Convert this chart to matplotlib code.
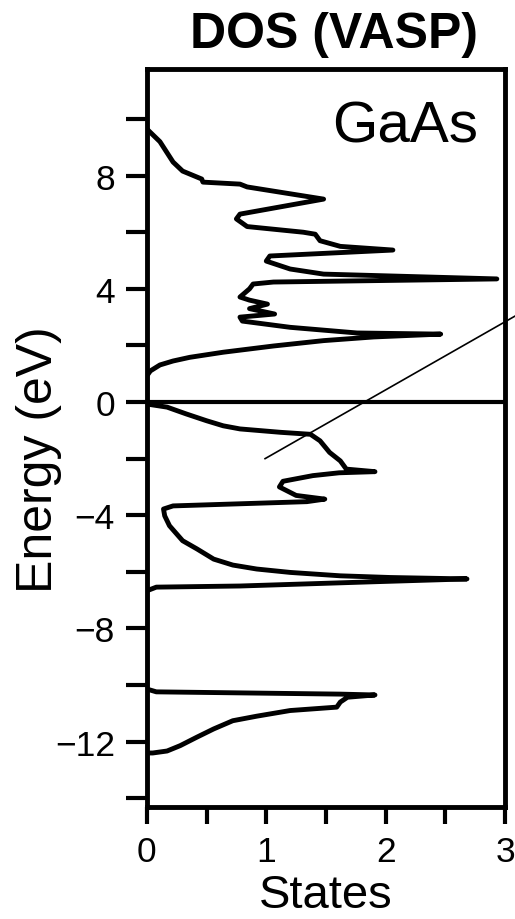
import matplotlib.pyplot as plt
import numpy as np

plt.rcParams['font.family'] = ['Liberation Sans', 'DejaVu Sans']

# conduction band (states, energy)
cb_dos = [0.0, 0.11, 0.22, 0.30, 0.46, 0.47, 0.78, 0.84, 1.48, 0.78, 0.75, 0.84,
          1.31, 1.41, 1.45, 1.62, 2.06, 1.03, 1.00, 1.20, 1.48, 2.93, 1.06, 0.89,
          0.86, 0.78, 0.86, 1.01, 0.86, 1.07, 0.78, 0.80, 1.20, 1.76, 2.46, 1.90,
          1.48, 1.06, 0.64, 0.36, 0.22, 0.11, 0.03, 0.0, 0.0]
cb_e = [9.65, 9.20, 8.48, 8.16, 7.88, 7.77, 7.70, 7.60, 7.17, 6.64, 6.47, 6.20,
        6.00, 5.93, 5.70, 5.50, 5.37, 5.16, 4.98, 4.70, 4.52, 4.35, 4.24, 4.17,
        4.00, 3.71, 3.60, 3.46, 3.30, 3.11, 3.00, 2.86, 2.64, 2.44, 2.40, 2.30,
        2.17, 1.98, 1.76, 1.58, 1.45, 1.31, 1.10, 0.92, 0.0]

# valence band
vb_dos = [0.0, 0.17, 0.33, 0.50, 0.64, 0.78, 1.12, 1.37, 1.45, 1.53, 1.62, 1.67,
          1.91, 1.61, 1.39, 1.14, 1.11, 1.25, 1.49, 1.34, 0.22, 0.14, 0.15, 0.19,
          0.25, 0.30, 0.42, 0.56, 0.72, 0.92, 1.20, 1.62, 2.04, 2.68, 1.90, 0.78,
          0.08, 0.0, 0.0]
vb_e = [-0.07, -0.18, -0.42, -0.66, -0.84, -0.95, -1.07, -1.14, -1.37, -1.78,
        -2.08, -2.37, -2.46, -2.50, -2.60, -2.80, -3.00, -3.30, -3.43, -3.52,
        -3.67, -3.78, -4.02, -4.37, -4.66, -4.90, -5.19, -5.55, -5.76, -5.90,
        -6.02, -6.14, -6.20, -6.25, -6.35, -6.50, -6.54, -6.67, -10.14]

# semicore band
sc_dos = [0.0, 0.08, 1.62, 1.91, 1.68, 1.62, 1.59, 1.20, 0.92, 0.72, 0.56, 0.42,
          0.28, 0.17, 0.05, 0.0]
sc_e = [-10.14, -10.24, -10.32, -10.35, -10.43, -10.60, -10.78, -10.90, -11.10,
        -11.26, -11.55, -11.84, -12.14, -12.33, -12.40, -12.40]

# guide line end points
guide_x = [0.99, 3.10]
guide_e = [-2.0, 3.08]

fig = plt.figure(figsize=(5.15, 9.2), dpi=100)
ax = fig.add_axes([0.285, 0.122, 0.696, 0.802])

for d, e in [(cb_dos, cb_e), (vb_dos, vb_e), (sc_dos, sc_e)]:
    ax.plot(d, e, color='black', lw=3.5, solid_joinstyle='round')
ax.axhline(0, color='black', lw=3)
ax.plot(guide_x, guide_e, color='black', lw=1.2, clip_on=False)

ax.set_xlim(0, 3)
ax.set_ylim(-14.3, 11.77)
ax.set_xticks([0, 1, 2, 3])
ax.set_xticks([0.5, 1.5, 2.5], minor=True)
ax.set_yticks([-12, -8, -4, 0, 4, 8])
ax.set_yticks([-14, -10, -6, -2, 2, 6, 10], minor=True)
ax.tick_params(axis='y', which='both', direction='out', width=3, length=15,
               pad=8, labelsize=25.5)
ax.tick_params(axis='x', which='both', direction='out', width=3, length=12,
               pad=8, labelsize=25.5)

for sp in ax.spines.values():
    sp.set_linewidth(3.5)

ax.set_xlabel('States', fontsize=34, labelpad=4)
ax.set_ylabel('Energy (eV)', fontsize=36)
ax.yaxis.set_label_coords(-0.237, 0.4715)
ax.set_title('DOS (VASP)', fontsize=36, fontweight='bold', pad=16, x=0.522)
ax.text(0.925, 0.901, 'GaAs', transform=ax.transAxes, ha='right', va='baseline', fontsize=42)

plt.savefig('out.png', dpi=100)
